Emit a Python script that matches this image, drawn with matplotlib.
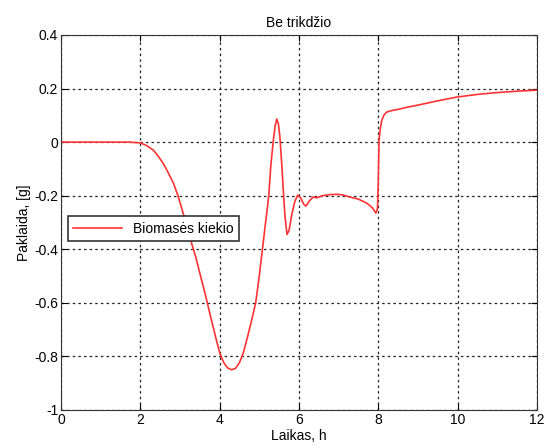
import matplotlib.pyplot as plt

plt.rcParams['font.family'] = ['Liberation Sans', 'DejaVu Sans']

# values
laikas = [0, 0.5, 1.0, 1.5, 1.7, 2.0, 2.15, 2.33, 2.45, 2.58, 2.7, 2.84, 2.95, 3.06, 3.17,
          3.27, 3.4, 3.52, 3.65, 3.77, 3.9, 4.0, 4.1, 4.2, 4.3, 4.4, 4.5, 4.6, 4.7,
          4.8, 4.91, 5.0, 5.08, 5.16, 5.24, 5.29, 5.35, 5.4, 5.44, 5.48, 5.52, 5.57,
          5.61, 5.65, 5.7, 5.75, 5.82, 5.9, 5.97, 6.05, 6.12, 6.18, 6.26, 6.36, 6.45,
          6.6, 6.8, 6.96, 7.1, 7.28, 7.5, 7.71, 7.85, 7.94, 7.98, 8.0, 8.02, 8.05,
          8.09, 8.14, 8.21, 8.35, 8.5, 8.72, 9.0, 9.5, 9.98, 10.5, 11.0, 11.5, 12.0]
paklaida = [0, 0, 0, 0, 0, -0.003, -0.012, -0.03, -0.052, -0.08, -0.113, -0.155, -0.2,
            -0.255, -0.31, -0.366, -0.43, -0.5, -0.575, -0.65, -0.728, -0.785, -0.822,
            -0.843, -0.85, -0.845, -0.824, -0.786, -0.73, -0.67, -0.6, -0.5, -0.4, -0.3,
            -0.2, -0.09, 0.0, 0.06, 0.086, 0.07, 0.02, -0.09, -0.19, -0.28, -0.345,
            -0.33, -0.27, -0.22, -0.198, -0.21, -0.232, -0.239, -0.22, -0.205, -0.208,
            -0.2, -0.196, -0.195, -0.197, -0.205, -0.213, -0.228, -0.245, -0.265, -0.25,
            -0.15, 0.007, 0.05, 0.082, 0.1, 0.112, 0.118, 0.122, 0.13, 0.138, 0.154,
            0.168, 0.178, 0.185, 0.19, 0.194]

fig = plt.figure(figsize=(5.44, 4.48), dpi=100)
ax = fig.add_axes([0.112, 0.085, 0.875, 0.837])
ax.plot(laikas, paklaida, color='#ff3333', lw=1.2, label='Biomasės kiekio')
ax.set_xlim(0, 12)
ax.set_ylim(-1, 0.4)
ax.set_xticks([0, 2, 4, 6, 8, 10, 12])
ax.set_yticks([-1, -0.8, -0.6, -0.4, -0.2, 0, 0.2, 0.4])
ax.set_yticklabels(['-1', '-0.8', '-0.6', '-0.4', '-0.2', '0', '0.2', '0.4'])
ax.tick_params(direction='in', top=True, right=True, labelsize=10, length=4, pad=2)
ax.grid(True, color='#222222', linestyle=(0, (2, 2.5)), linewidth=0.9)
for s in ax.spines.values():
    s.set_color('#333333')
ax.set_title('Be trikdžio', fontsize=10, pad=6)
ax.set_xlabel('Laikas, h', fontsize=10, labelpad=2)
ax.set_ylabel('Paklaida, [g]', fontsize=10, labelpad=2)
leg = ax.legend(loc='upper left', bbox_to_anchor=(0.0, 0.535), fontsize=10,
                fancybox=False, framealpha=1, edgecolor='#333333', handlelength=3.5,
                borderpad=0.4)
leg.get_frame().set_linewidth(1.2)
fig.savefig('out.png', dpi=100)
